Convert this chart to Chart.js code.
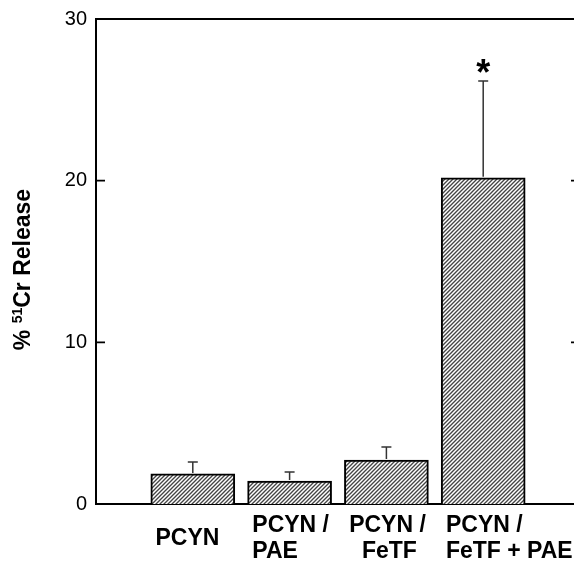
<!DOCTYPE html>
<html><head><meta charset="utf-8">
<script src="https://cdn.jsdelivr.net/npm/chart.js@4.4.0/dist/chart.umd.min.js"></script>
<style>html,body{margin:0;padding:0;background:#fff;overflow:hidden;width:574px;height:561px}</style>
</head><body>
<canvas id="c" width="590" height="561"></canvas>
<script>
const categories = [["PCYN"], ["PCYN /", "PAE"], ["PCYN /", "  FeTF"], ["PCYN /", "FeTF + PAE"]];
const releaseValues = [1.86, 1.42, 2.72, 20.18];
const errorValues = [0.74, 0.56, 0.80, 5.98];
const significant = [false, false, false, true];
const yTickValues = [0, 10, 20, 30];

const canvas = document.getElementById('c');
const ctx = canvas.getContext('2d');

function makePattern() {
  const p = document.createElement('canvas');
  p.width = 4; p.height = 4;
  const g = p.getContext('2d');
  g.fillStyle = '#ffffff'; g.fillRect(0, 0, 4, 4);
  g.strokeStyle = '#444'; g.lineWidth = 1.35;
  g.beginPath();
  g.moveTo(0, 4); g.lineTo(4, 0);
  g.moveTo(-1, 1); g.lineTo(1, -1);
  g.moveTo(3, 5); g.lineTo(5, 3);
  g.stroke();
  return ctx.createPattern(p, 'repeat');
}
const hatch = makePattern();

const FONT = '"Liberation Sans", Arial, Helvetica, sans-serif';
const LABEL_SHIFT = 0.385; // label block starts left of bar centre (in category units)

function noPad(s) { s.paddingLeft = 0; s.paddingRight = 0; s.paddingTop = 0; s.paddingBottom = 0; }

const decor = {
  id: 'decor',
  afterDatasetsDraw(chart) {
    const c = chart.ctx, a = chart.chartArea;
    const xs = chart.scales.x, ys = chart.scales.y;
    c.save();
    c.strokeStyle = '#000'; c.lineWidth = 2;
    c.beginPath();
    c.moveTo(a.left, a.top); c.lineTo(a.right, a.top); c.lineTo(a.right, a.bottom);
    c.stroke();
    c.lineWidth = 1.8;
    yTickValues.forEach(v => {
      const py = ys.getPixelForValue(v);
      c.beginPath();
      c.moveTo(a.left, py); c.lineTo(a.left + 9, py);
      c.moveTo(a.right, py); c.lineTo(a.right - 9, py);
      c.stroke();
    });
    c.strokeStyle = '#333'; c.lineWidth = 1.5;
    releaseValues.forEach((v, i) => {
      const px = xs.getPixelForValue(i + 1);
      const p0 = ys.getPixelForValue(v);
      const p1 = ys.getPixelForValue(v + errorValues[i]);
      c.beginPath();
      c.moveTo(px, p0 - 1); c.lineTo(px, p1);
      c.moveTo(px - 5, p1); c.lineTo(px + 5, p1);
      c.stroke();
      if (significant[i]) {
        c.fillStyle = '#000';
        c.font = 'bold 36px ' + FONT;
        c.textAlign = 'center'; c.textBaseline = 'alphabetic';
        c.fillText('*', px, p1 + 4);
      }
    });
    c.restore();
  },
  afterDraw(chart) {
    const c = chart.ctx, a = chart.chartArea;
    c.save();
    c.translate(30, (a.top + a.bottom) / 2 + 8);
    c.rotate(-Math.PI / 2);
    c.fillStyle = '#000';
    c.textBaseline = 'alphabetic'; c.textAlign = 'left';
    const big = 'bold 23px ' + FONT, small = 'bold 14px ' + FONT;
    const parts = [['% ', big, 0], ['51', small, -8], ['Cr Release', big, 0]];
    let total = 0;
    parts.forEach(p => { c.font = p[1]; total += c.measureText(p[0]).width; });
    let x = -total / 2;
    parts.forEach(p => { c.font = p[1]; c.fillText(p[0], x, p[2]); x += c.measureText(p[0]).width; });
    c.restore();
  }
};

new Chart(ctx, {
  type: 'bar',
  data: {
    datasets: [{
      data: releaseValues.map((v, i) => ({ x: i + 1, y: v })),
      backgroundColor: hatch,
      borderColor: '#000',
      borderWidth: 2,
      borderSkipped: 'start',
      barThickness: 84
    }]
  },
  options: {
    responsive: false,
    animation: false,
    devicePixelRatio: 1,
    layout: { autoPadding: false, padding: { top: 19, right: 10, left: 0, bottom: 0 } },
    plugins: { legend: { display: false }, tooltip: { enabled: false } },
    scales: {
      x: {
        type: 'linear', min: 0, max: 5, offset: false, bounds: 'data', grace: 0,
        afterBuildTicks: s => { s.ticks = categories.map((c, i) => ({ value: i + 1 - LABEL_SHIFT, idx: i })); },
        afterFit: s => { s.height = 57; noPad(s); },
        grid: { display: false, drawTicks: false, offset: false },
        border: { display: true, color: '#000', width: 2 },
        ticks: {
          autoSkip: false, maxRotation: 0, minRotation: 0, padding: 22,
          align: 'start',
          crossAlign: 'center',
          color: '#000',
          font: { family: FONT, size: 23, weight: 'bold', lineHeight: 1.1 },
          callback: (v, i) => categories[i] || ''
        }
      },
      y: {
        min: 0, max: 30,
        afterBuildTicks: s => { s.ticks = yTickValues.map(v => ({ value: v })); },
        afterFit: s => { s.width = 96; noPad(s); },
        grid: { display: false, drawTicks: false },
        border: { display: true, color: '#000', width: 2 },
        ticks: {
          padding: 9, color: '#000',
          font: { family: FONT, size: 20 },
          callback: v => String(v)
        }
      }
    }
  },
  plugins: [decor]
});
</script>
</body></html>
